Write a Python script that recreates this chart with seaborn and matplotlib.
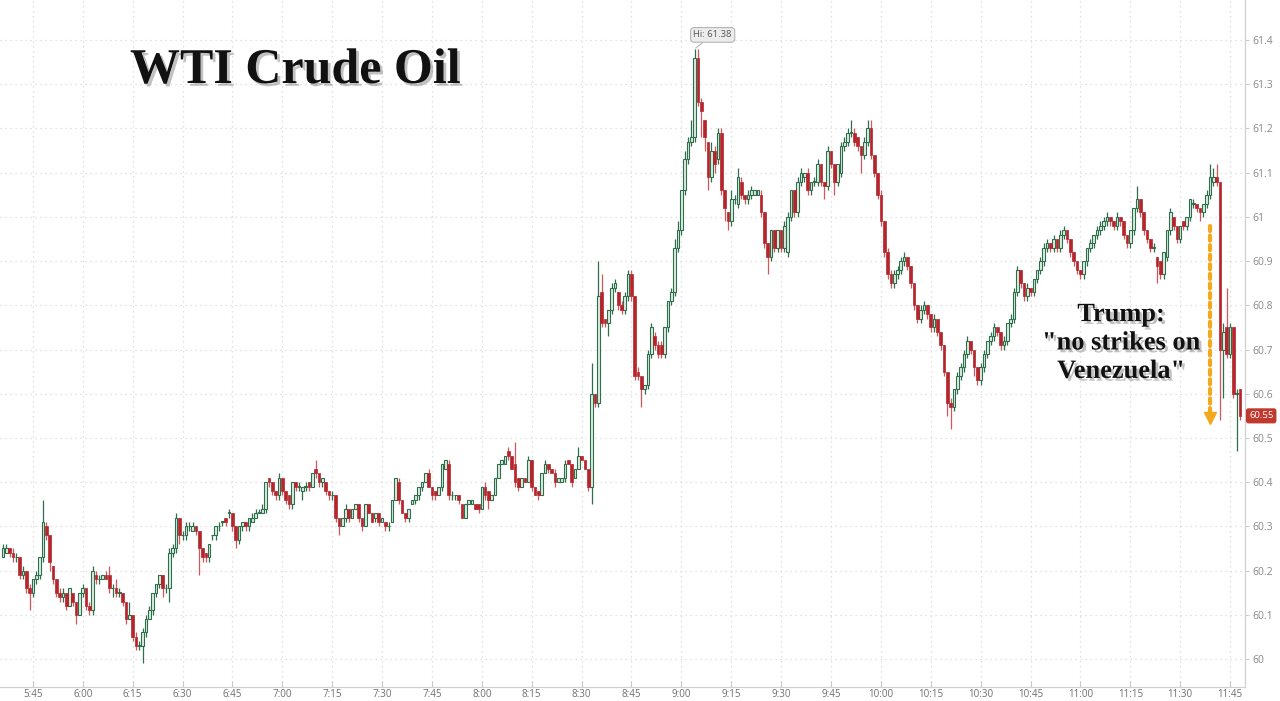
import matplotlib
matplotlib.use("Agg")
import matplotlib.pyplot as plt
import matplotlib.patheffects as pe
import numpy as np
import seaborn as sns

# ---------------- data (prices in cents above 60.00, one candle per minute from 5:36) ----------------
open_c = [
    23, 24, 25, 24, 23, 23, 19, 20, 16, 15,
    18, 19, 23, 30, 28, 21, 18, 15, 14, 15,
    12, 15, 13, 10, 15, 16, 12, 11, 19, 18,
    18, 19, 19, 16, 16, 15, 15, 13, 9, 10,
    5, 3, 3, 6, 9, 11, 15, 17, 19, 16,
    16, 24, 25, 32, 28, 28, 30, 29, 30, 29,
    25, 24, 23, 28, 28, 30, 31, 32, 33, 33,
    30, 27, 30, 31, 30, 31, 32, 33, 33, 34,
    41, 40, 38, 37, 41, 38, 37, 35, 40, 39,
    38, 39, 40, 39, 43, 42, 40, 40, 38, 37,
    37, 32, 30, 32, 34, 32, 34, 35, 32, 30,
    35, 33, 32, 33, 31, 31, 30, 31, 36, 40,
    36, 33, 32, 35, 36, 37, 39, 40, 42, 39,
    38, 37, 39, 43, 44, 37, 37, 37, 35, 32,
    35, 35, 35, 35, 34, 39, 38, 36, 37, 41,
    44, 44, 47, 46, 44, 41, 39, 41, 40, 45,
    39, 38, 37, 42, 44, 43, 42, 40, 40, 41,
    45, 44, 41, 43, 46, 45, 43, 39, 60, 58,
    83, 77, 76, 79, 84, 83, 80, 79, 82, 87,
    82, 65, 64, 61, 62, 69, 73, 71, 71, 69,
    75, 81, 83, 93, 97, 106, 113, 117, 118, 136,
    126, 122, 117, 109, 115, 113, 119, 106, 101, 99,
    104, 103, 108, 105, 104, 105, 105, 105, 105, 101,
    94, 91, 97, 93, 97, 93, 92, 100, 106, 101,
    108, 109, 110, 106, 108, 108, 112, 108, 107, 115,
    112, 108, 110, 116, 117, 119, 119, 118, 116, 114,
    117, 120, 114, 110, 105, 99, 92, 87, 85, 87,
    88, 90, 91, 89, 85, 80, 77, 79, 80, 78,
    75, 77, 74, 71, 65, 58, 57, 61, 64, 66,
    69, 72, 70, 66, 63, 66, 69, 72, 73, 75,
    74, 71, 72, 76, 77, 83, 88, 85, 82, 84,
    83, 86, 88, 90, 93, 94, 93, 95, 93, 96,
    97, 95, 92, 90, 88, 87, 90, 93, 94, 96,
    97, 98, 99, 100, 99, 98, 100, 99, 96, 94,
    97, 102, 104, 101, 97, 95, 93, 91, 90, 87,
    91, 97, 100, 98, 95, 99, 98, 100, 103, 103,
    102, 101, 103, 105, 108, 109, 108, 70, 75, 69,
    75, 60, 61,
]
close_c = [
    25, 25, 24, 23, 23, 19, 20, 16, 15, 18,
    19, 23, 31, 28, 22, 18, 15, 14, 15, 12,
    16, 13, 10, 15, 16, 12, 11, 20, 18, 18,
    19, 18, 16, 16, 15, 15, 13, 9, 10, 5,
    3, 3, 6, 9, 11, 15, 17, 19, 16, 16,
    24, 25, 32, 28, 28, 30, 30, 30, 29, 25,
    23, 23, 26, 28, 30, 30, 31, 31, 33, 30,
    27, 30, 31, 30, 32, 32, 33, 33, 34, 40,
    40, 38, 37, 41, 38, 36, 35, 40, 39, 39,
    39, 39, 39, 42, 42, 40, 41, 38, 37, 37,
    32, 30, 32, 34, 32, 34, 35, 32, 30, 35,
    33, 31, 33, 31, 32, 30, 30, 36, 41, 36,
    33, 32, 34, 36, 37, 39, 40, 42, 39, 37,
    37, 39, 44, 45, 37, 37, 37, 36, 32, 35,
    36, 36, 34, 34, 39, 37, 36, 37, 41, 44,
    45, 46, 46, 43, 40, 39, 41, 40, 45, 39,
    37, 37, 42, 44, 43, 42, 40, 41, 41, 44,
    44, 40, 43, 46, 45, 43, 39, 60, 58, 82,
    76, 76, 79, 84, 85, 80, 79, 82, 87, 82,
    64, 64, 61, 62, 69, 75, 71, 69, 69, 75,
    81, 83, 93, 97, 106, 113, 117, 118, 136, 126,
    124, 118, 109, 115, 112, 119, 106, 102, 99, 104,
    104, 109, 105, 104, 105, 106, 106, 106, 101, 94,
    91, 97, 93, 97, 93, 98, 100, 106, 101, 108,
    110, 110, 106, 108, 108, 112, 108, 107, 115, 112,
    108, 112, 116, 117, 119, 119, 117, 116, 114, 117,
    120, 114, 110, 105, 99, 92, 87, 85, 87, 88,
    90, 91, 89, 85, 80, 77, 79, 80, 78, 75,
    77, 74, 71, 65, 58, 57, 61, 64, 66, 69,
    72, 70, 66, 63, 66, 69, 72, 73, 75, 74,
    71, 72, 76, 77, 83, 88, 85, 82, 84, 83,
    86, 88, 90, 93, 94, 93, 95, 93, 96, 97,
    95, 92, 90, 88, 87, 90, 93, 94, 96, 97,
    98, 99, 100, 99, 98, 100, 99, 96, 94, 97,
    102, 104, 101, 97, 95, 93, 93, 89, 87, 92,
    97, 101, 98, 95, 98, 98, 100, 104, 103, 102,
    101, 103, 105, 109, 109, 108, 70, 74, 69, 75,
    60, 60, 55,
]
high_c = [
    26, 26, 25, 25, 24, 23, 21, 20, 17, 18,
    20, 23, 36, 31, 28, 21, 18, 16, 16, 15,
    16, 15, 13, 15, 17, 16, 13, 21, 20, 19,
    19, 20, 21, 17, 18, 16, 15, 13, 13, 10,
    6, 4, 7, 10, 12, 15, 17, 19, 19, 17,
    25, 26, 33, 32, 29, 31, 31, 31, 30, 29,
    25, 24, 26, 28, 30, 31, 31, 32, 34, 33,
    30, 30, 31, 31, 32, 33, 34, 34, 35, 40,
    41, 40, 38, 42, 41, 38, 37, 40, 40, 40,
    39, 40, 40, 42, 45, 42, 41, 40, 38, 38,
    37, 32, 32, 35, 34, 34, 35, 35, 32, 35,
    35, 33, 33, 33, 32, 31, 31, 36, 41, 41,
    36, 33, 34, 36, 37, 39, 40, 42, 43, 39,
    38, 39, 44, 45, 45, 38, 37, 37, 35, 35,
    36, 36, 35, 35, 39, 40, 38, 37, 41, 44,
    45, 46, 48, 46, 49, 41, 41, 41, 46, 45,
    39, 38, 42, 45, 44, 43, 43, 41, 41, 45,
    45, 44, 43, 48, 46, 45, 43, 67, 60, 90,
    87, 77, 79, 85, 86, 83, 81, 83, 88, 88,
    82, 66, 64, 62, 70, 76, 74, 72, 72, 75,
    81, 84, 95, 99, 106, 115, 118, 122, 138, 138,
    127, 122, 117, 117, 116, 120, 120, 106, 101, 106,
    105, 111, 109, 105, 106, 107, 106, 106, 106, 101,
    94, 97, 97, 97, 97, 99, 101, 106, 106, 109,
    111, 110, 111, 108, 109, 113, 112, 108, 116, 115,
    112, 112, 117, 118, 120, 122, 120, 118, 116, 118,
    122, 122, 114, 110, 106, 99, 93, 88, 88, 89,
    91, 92, 91, 89, 85, 80, 80, 81, 80, 78,
    78, 77, 74, 71, 65, 59, 61, 65, 67, 70,
    73, 72, 70, 66, 67, 70, 72, 74, 76, 75,
    74, 73, 76, 78, 84, 89, 88, 85, 85, 84,
    86, 88, 91, 94, 95, 94, 96, 95, 97, 98,
    97, 95, 92, 90, 88, 90, 93, 95, 96, 98,
    99, 100, 101, 100, 99, 101, 100, 99, 96, 97,
    102, 107, 104, 101, 97, 95, 94, 91, 90, 92,
    97, 102, 100, 98, 98, 99, 100, 104, 104, 103,
    102, 103, 106, 112, 111, 112, 108, 76, 84, 76,
    75, 61, 61,
]
low_c = [
    23, 24, 23, 22, 22, 18, 18, 15, 11, 14,
    17, 18, 22, 27, 20, 17, 14, 13, 13, 11,
    12, 12, 8, 10, 14, 11, 10, 10, 17, 17,
    18, 18, 15, 14, 14, 14, 12, 8, 9, 4,
    2, 2, -1, 5, 9, 10, 14, 16, 14, 15,
    13, 23, 24, 26, 27, 27, 29, 29, 28, 19,
    22, 22, 22, 27, 27, 29, 30, 30, 32, 29,
    25, 26, 29, 29, 29, 31, 32, 33, 33, 33,
    39, 37, 36, 36, 37, 35, 34, 34, 38, 38,
    36, 38, 38, 39, 41, 39, 39, 37, 36, 36,
    31, 28, 30, 31, 31, 32, 34, 31, 29, 30,
    33, 31, 31, 30, 31, 29, 29, 31, 36, 35,
    33, 31, 31, 35, 35, 36, 38, 40, 39, 36,
    36, 37, 38, 43, 36, 36, 36, 35, 32, 32,
    35, 35, 34, 33, 34, 36, 34, 36, 37, 41,
    44, 44, 45, 43, 39, 38, 39, 40, 40, 38,
    37, 36, 37, 42, 42, 42, 39, 40, 40, 40,
    44, 39, 41, 43, 45, 43, 38, 35, 57, 57,
    75, 75, 73, 78, 83, 79, 78, 78, 81, 81,
    63, 63, 57, 60, 61, 68, 70, 68, 68, 68,
    74, 80, 82, 92, 96, 105, 112, 116, 117, 125,
    118, 115, 106, 108, 110, 112, 105, 99, 97, 98,
    103, 102, 104, 103, 103, 104, 105, 105, 100, 93,
    87, 90, 92, 92, 92, 92, 91, 99, 100, 100,
    107, 108, 105, 105, 107, 107, 107, 104, 106, 111,
    105, 107, 109, 115, 116, 118, 116, 115, 110, 113,
    116, 113, 109, 104, 98, 91, 86, 84, 84, 86,
    87, 89, 88, 84, 79, 76, 76, 78, 77, 74,
    74, 73, 70, 64, 55, 52, 56, 60, 63, 65,
    68, 69, 64, 62, 62, 65, 68, 71, 72, 73,
    70, 70, 71, 75, 76, 82, 84, 81, 81, 82,
    82, 85, 87, 89, 92, 92, 92, 92, 92, 95,
    94, 91, 89, 87, 86, 86, 89, 92, 93, 95,
    96, 97, 98, 98, 97, 97, 98, 95, 93, 93,
    96, 101, 100, 96, 94, 92, 92, 85, 86, 86,
    90, 96, 97, 94, 94, 97, 97, 99, 102, 101,
    99, 100, 102, 104, 107, 107, 54, 59, 68, 68,
    59, 47, 54,
]
price_base = 60.00
first_candle = "5:36"
time_labels = ["5:45", "6:00", "6:15", "6:30", "6:45", "7:00", "7:15", "7:30", "7:45",
               "8:00", "8:15", "8:30", "8:45", "9:00", "9:15", "9:30", "9:45", "10:00",
               "10:15", "10:30", "10:45", "11:00", "11:15", "11:30", "11:45"]
price_ticks = [60.0, 60.1, 60.2, 60.3, 60.4, 60.5, 60.6, 60.7, 60.8, 60.9, 61.0, 61.1, 61.2, 61.3, 61.4]
title_text = "WTI Crude Oil"
note_text = 'Trump:\n"no strikes on\nVenezuela"'
# annotation arrow (minute index, price)
arrow_minute = 363
arrow_from = 60.98
arrow_to = 60.545

# ---------------- styling ----------------
sns.set_theme(style="white")
plt.rcParams["font.family"] = ["Open Sans", "DejaVu Sans"]

GREEN_EDGE = "#2f6e4c"
GREEN_FILL = "#dcefe2"
RED_FILL = "#b5262c"
RED_WICK = "#d0575c"

o = price_base + np.array(open_c) / 100.0
c = price_base + np.array(close_c) / 100.0
h = price_base + np.array(high_c) / 100.0
l = price_base + np.array(low_c) / 100.0
idx = np.arange(len(c))
up = c >= o


def to_minute(t):
    hh, mm = t.split(":")
    return int(hh) * 60 + int(mm)


start = to_minute(first_candle)
tick_pos = [to_minute(t) - start for t in time_labels]

fig = plt.figure(figsize=(12.8, 7.01), dpi=100)
fig.patch.set_facecolor("white")
ax = fig.add_axes([0, 14 / 701, 1245 / 1280, 687 / 701])
ax.set_facecolor("white")

# wicks
ax.vlines(idx[up], l[up], h[up], color=GREEN_EDGE, lw=0.9, zorder=2)
ax.vlines(idx[~up], l[~up], h[~up], color=RED_WICK, lw=0.9, zorder=2)
# bodies
body_up = np.maximum(c - o, 0.0015)
ax.bar(idx[up], body_up[up], bottom=o[up], width=0.8, color=GREEN_FILL,
       edgecolor=GREEN_EDGE, linewidth=0.8, zorder=3)
ax.bar(idx[~up], (o - c)[~up], bottom=c[~up], width=0.8, color=RED_FILL,
       edgecolor=RED_FILL, linewidth=0.5, zorder=3)

ax.set_xlim(-0.9, 373.5)
ax.set_ylim(59.9367, 61.4906)

ax.set_xticks(tick_pos)
ax.set_xticklabels(time_labels)
ax.set_yticks(price_ticks)
ax.set_yticklabels([f"{v:g}" for v in price_ticks])
ax.yaxis.tick_right()

ax.grid(True, axis="both", color="#d9d9d9", linestyle=(0, (1, 3)), linewidth=0.9, zorder=0)
for s in ["top", "left"]:
    ax.spines[s].set_visible(False)
for s in ["right", "bottom"]:
    ax.spines[s].set_color("#d0d0d0")
    ax.spines[s].set_linewidth(0.9)

ax.tick_params(axis="x", direction="in", length=4, width=0.8, color="#c8c8c8",
               labelcolor="#6e6e6e", labelsize=7, pad=1.5, bottom=True)
ax.tick_params(axis="y", direction="out", length=3, width=0.8, color="#cccccc",
               labelcolor="#888888", labelsize=7.5, pad=2, right=True, left=False)

# high marker
hi_i = int(np.argmax(h))
ax.annotate(f"Hi: {h[hi_i]:.2f}", xy=(hi_i, h[hi_i]), xytext=(18, 14),
            textcoords="offset pixels", ha="center", va="center", fontsize=6.8,
            color="#555555",
            bbox=dict(boxstyle="round,pad=0.3,rounding_size=0.4", fc="#ececec",
                      ec="#b5b5b5", lw=0.8),
            arrowprops=dict(arrowstyle="-", color="#b5b5b5", lw=0.8, shrinkA=0, shrinkB=1))

# last price label
ax.annotate(f"{c[-1]:.2f}", xy=(1, c[-1]), xycoords=("axes fraction", "data"),
            xytext=(4, 0), textcoords="offset pixels", ha="left", va="center",
            fontsize=6.8, color="white", annotation_clip=False,
            bbox=dict(boxstyle="round,pad=0.25,rounding_size=0.2", fc="#c0392f", ec="#c0392f"))

# orange dashed arrow
ax.plot([arrow_minute, arrow_minute], [arrow_from, arrow_to + 0.01], color="#f4a81d",
        lw=3, linestyle=(0, (1.2, 1.1)), dash_capstyle="round", zorder=5)
ax.plot([arrow_minute], [arrow_to], marker="v", markersize=8, color="#f4a81d",
        markeredgecolor="#f4a81d", zorder=5)

shadow = [pe.withSimplePatchShadow(offset=(2, -2), shadow_rgbFace="#333333", alpha=0.3)]
fig.text(130 / 1280, 1 - 83 / 701, title_text, fontsize=36, fontweight="bold",
         family=["Liberation Serif", "DejaVu Serif"], color="#111111", va="baseline",
         ha="left", path_effects=shadow)
fig.text(1121 / 1280, 1 - 343 / 701, note_text, fontsize=19, fontweight="bold",
         family=["Liberation Serif", "DejaVu Serif"], color="#111111", va="center",
         ha="center", multialignment="center", linespacing=1.3, path_effects=shadow)

fig.savefig("out.png", dpi=100, facecolor="white")
